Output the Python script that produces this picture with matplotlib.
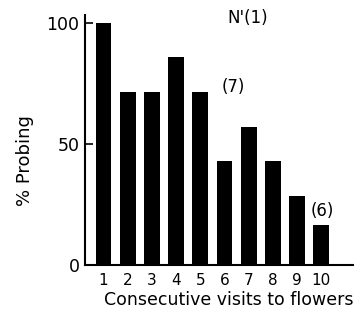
import matplotlib
matplotlib.use('Agg')
import matplotlib.pyplot as plt

visits = [1, 2, 3, 4, 5, 6, 7, 8, 9, 10]
tick_labels = ['1', '2', '3', '4', '5', '6', '7', '8', '9', '10']
pct_probing = [100, 71.4, 71.4, 85.7, 71.4, 42.9, 57.1, 42.9, 28.6, 16.7]
notes = [("N'(1)", 6.97, 102.0), ('(7)', 6.35, 73.5), ('(6)', 10.03, 22.3)]

fig = plt.figure(figsize=(3.55, 3.13), dpi=100)
ax = fig.add_axes([0.2394, 0.1534, 0.755, 0.799])

ax.bar(visits, pct_probing, width=0.66, color='black')
ax.set_xlim(0.235, 11.31)
ax.set_ylim(0, 103.2)

ax.spines['top'].set_visible(False)
ax.spines['right'].set_visible(False)
for s in ('left', 'bottom'):
    ax.spines[s].set_linewidth(1.5)

ax.set_yticks([0, 50, 100])
ax.tick_params(axis='y', direction='in', length=6, width=1.2, labelsize=12.5, pad=4)
ax.set_xticks(visits)
ax.set_xticklabels(tick_labels)
ax.tick_params(axis='x', length=0, labelsize=11, pad=6)

ax.set_xlabel('Consecutive visits to flowers', fontsize=12.5, labelpad=2,
              loc='right')
ax.set_ylabel('% Probing', fontsize=13)
# label sits a bit lower than the axes middle in the original
ax.yaxis.set_label_coords(-0.19, 0.416)

for txt, x, y in notes:
    ax.text(x, y, txt, fontsize=12, ha='center', va='center', clip_on=False)

fig.savefig('out.png', dpi=100)
